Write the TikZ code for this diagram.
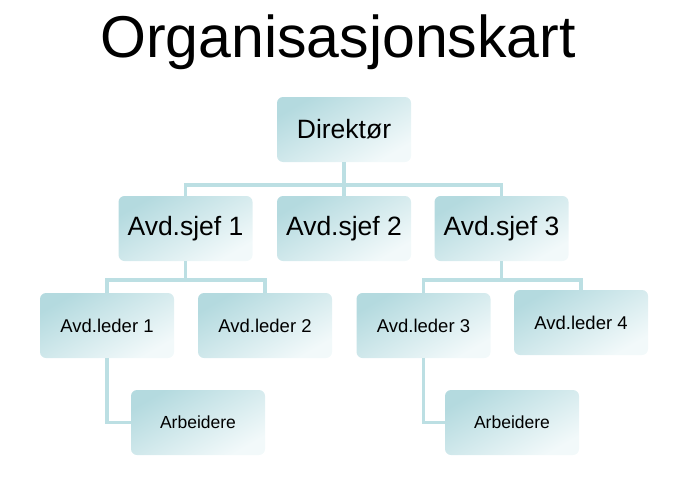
\documentclass[tikz,border=0pt]{standalone}
\usepackage{fontspec}
\setmainfont{Liberation Sans}
\usetikzlibrary{positioning}
\definecolor{boxdark}{HTML}{B4DADF}
\definecolor{boxlight}{HTML}{F2F9FA}
\definecolor{linecol}{HTML}{BCDFE3}

\begin{document}
\begin{tikzpicture}[x=1pt,y=-1pt]
  \useasboundingbox (0,0) rectangle (684,487);
  \tikzset{BoxStyle/.style = {shape=rectangle, rounded corners=6pt, minimum width=134pt, minimum height=65pt,
      top color=boxdark, bottom color=boxlight, shading angle=30, text=black, font=\fontsize{18.5}{22}\selectfont}}
  \tikzset{BigBoxStyle/.style = {BoxStyle, font=\fontsize{26.5}{30}\selectfont}}
  \tikzset{EdgeStyle/.style = {draw=linecol, line width=3.5pt}}

  \node(title) at (338,42) {\fontsize{59}{70}\selectfont Organisasjonskart};

  \node(dir)[BigBoxStyle] at (344,129.5) {Direktør};
  \node(sjef1)[BigBoxStyle] at (185.5,228.5) {Avd.sjef 1};
  \node(sjef2)[BigBoxStyle] at (344,228.5) {Avd.sjef 2};
  \node(sjef3)[BigBoxStyle] at (501.5,228.5) {Avd.sjef 3};
  \node(led1)[BoxStyle] at (107,325.5) {Avd.leder 1};
  \node(led2)[BoxStyle] at (265,325.5) {Avd.leder 2};
  \node(led3)[BoxStyle] at (423.5,325.5) {Avd.leder 3};
  \node(led4)[BoxStyle] at (581,322.5) {Avd.leder 4};
  \node(arb1)[BoxStyle, font=\fontsize{17.5}{21}\selectfont] at (198,422.5) {Arbeidere};
  \node(arb2)[BoxStyle, font=\fontsize{17.5}{21}\selectfont] at (512,422.5) {Arbeidere};

  \draw[EdgeStyle] (dir.south) -- (sjef2.north);
  \draw[EdgeStyle] (sjef1.north) |- (344,185) -| (sjef3.north);
  \draw[EdgeStyle] (sjef1.south) -- (185.5,280);
  \draw[EdgeStyle] (led1.north) |- (185.5,280) -| (led2.north);
  \draw[EdgeStyle] (sjef3.south) -- (501.5,280);
  \draw[EdgeStyle] (led3.north) |- (501.5,280) -| (led4.north);
  \draw[EdgeStyle] (led1.south) |- (arb1.west);
  \draw[EdgeStyle] (led3.south) |- (arb2.west);
\end{tikzpicture}
\end{document}
